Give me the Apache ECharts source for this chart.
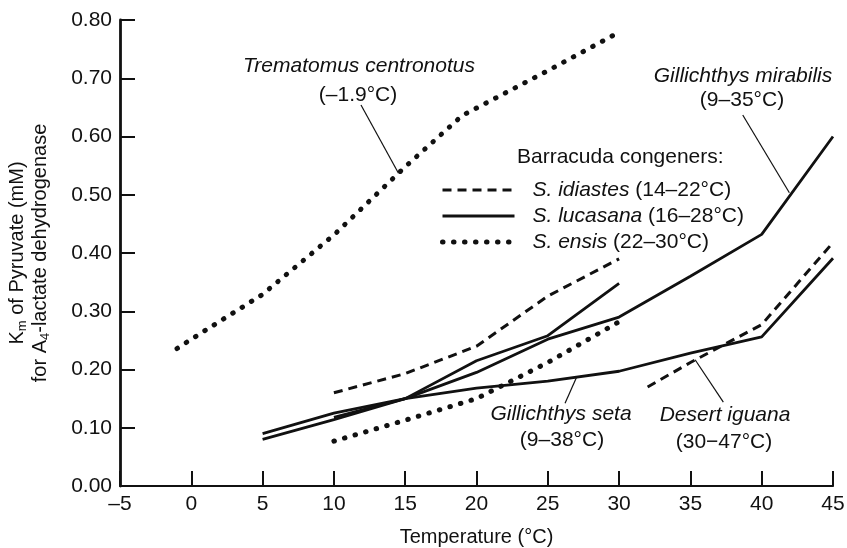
<!DOCTYPE html>
<html>
<head>
<meta charset="utf-8">
<script src="https://cdn.jsdelivr.net/npm/echarts@6/dist/echarts.min.js"></script>
<style>
  html, body { margin: 0; padding: 0; background: #fff; }
  #chart { width: 847px; height: 548px; }
</style>
</head>
<body>
<div id="chart"></div>
<script>
// ---- Data ----
const xTicks = [-5, 0, 5, 10, 15, 20, 25, 30, 35, 40, 45];
const yTicks = [0.0, 0.1, 0.2, 0.3, 0.4, 0.5, 0.6, 0.7, 0.8];

const trematomusT = [-1, 0, 5, 10, 15, 19, 25, 30];
const trematomusK = [0.236, 0.252, 0.329, 0.431, 0.548, 0.636, 0.713, 0.779];

const mirabilisT = [5, 10, 15, 20, 25, 30, 35, 40, 45];
const mirabilisK = [0.080, 0.114, 0.150, 0.195, 0.252, 0.290, 0.360, 0.432, 0.600];

const setaT = [5, 10, 15, 20, 25, 30, 35, 40, 45];
const setaK = [0.090, 0.125, 0.150, 0.168, 0.180, 0.197, 0.228, 0.256, 0.391];

const idiastesT = [10, 15, 20, 25, 30];
const idiastesK = [0.160, 0.193, 0.240, 0.326, 0.390];

const lucasanaT = [10, 15, 20, 25, 30];
const lucasanaK = [0.118, 0.150, 0.215, 0.258, 0.348];

const ensisT = [10, 15, 20, 25, 30];
const ensisK = [0.077, 0.113, 0.150, 0.212, 0.282];

const iguanaT = [32, 35, 40, 45];
const iguanaK = [0.170, 0.212, 0.277, 0.418];

const legendNames = ['S. idiastes', 'S. lucasana', 'S. ensis'];
const legendRanges = ['(14–22°C)', '(16–28°C)', '(22–30°C)'];

// ---- Styles ----
const FONT = "'Liberation Sans', Arial, Helvetica, sans-serif";
const INK = '#111';
const solid = { color: INK, width: 2.8, type: 'solid' };
const dashed = { color: INK, width: 3, type: [9, 6] };
const dotted = { color: INK, width: 5, type: [0.5, 10.5], cap: 'round' };

function zip(t, k) { return t.map((v, i) => [v, k[i]]); }
function lineSeries(name, t, k, style) {
  return {
    name: name, type: 'line', data: zip(t, k), symbol: 'none', silent: true,
    color: INK, itemStyle: { color: INK },
    lineStyle: style, animation: false, z: 3
  };
}

const chart = echarts.init(document.getElementById('chart'), null, { renderer: 'canvas' });

const option = {
  animation: false,
  backgroundColor: '#fff',
  color: [INK],
  grid: { left: 120, right: 14, top: 20, bottom: 62, containLabel: false, outerBoundsMode: 'none' },
  xAxis: {
    type: 'value', min: -5, max: 45, interval: 5,
    name: 'Temperature (°C)', nameLocation: 'middle', nameGap: 41,
    nameTextStyle: { fontSize: 20, color: INK, fontFamily: FONT },
    axisLine: { show: true, onZero: false, lineStyle: { color: INK, width: 2.2 } },
    axisTick: { show: true, inside: true, length: 15, lineStyle: { color: INK, width: 2 } },
    axisLabel: { fontSize: 21, color: INK, fontFamily: FONT, margin: 8,
      formatter: v => (v < 0 ? '–' + Math.abs(v) : String(v)) },
    splitLine: { show: false }
  },
  yAxis: {
    type: 'value', min: 0, max: 0.8, interval: 0.1,
    name: '{a|K}{s|m}{a| of Pyruvate (mM)}\n{a|for A}{s|4}{a|-lactate dehydrogenase}',
    nameLocation: 'middle', nameGap: 68,
    nameTextStyle: {
      color: INK, fontFamily: FONT, fontSize: 20, lineHeight: 23,
      rich: {
        a: { fontSize: 20, lineHeight: 23, fontFamily: FONT, color: INK },
        s: { fontSize: 13, lineHeight: 23, fontFamily: FONT, color: INK, verticalAlign: 'bottom' }
      }
    },
    axisLine: { show: true, onZero: false, lineStyle: { color: INK, width: 2.8 } },
    axisTick: { show: true, inside: true, length: 15, lineStyle: { color: INK, width: 2 } },
    axisLabel: { fontSize: 21, color: INK, fontFamily: FONT, margin: 8,
      formatter: v => v.toFixed(2) },
    splitLine: { show: false }
  },
  legend: {
    orient: 'vertical', left: 435, top: 174,
    itemWidth: 72, itemHeight: 14, itemGap: 4,
    selectedMode: false,
    itemStyle: { opacity: 0, borderWidth: 0 },
    data: [
      { name: legendNames[0], lineStyle: dashed, itemStyle: { opacity: 0 } },
      { name: legendNames[1], lineStyle: solid, itemStyle: { opacity: 0 } },
      { name: legendNames[2], lineStyle: dotted, itemStyle: { opacity: 0 } }
    ],
    formatter: function (name) {
      const i = legendNames.indexOf(name);
      return '{sp|}{i|' + name + '} {r|' + legendRanges[i] + '}';
    },
    textStyle: {
      fontSize: 21, color: INK, fontFamily: FONT, lineHeight: 22,
      rich: {
        sp: { width: 13 },
        i: { fontSize: 21, fontStyle: 'italic', fontFamily: FONT, color: INK },
        r: { fontSize: 21, fontFamily: FONT, color: INK }
      }
    }
  },
  series: [
    lineSeries('Trematomus centronotus', trematomusT, trematomusK, dotted),
    lineSeries('Gillichthys mirabilis', mirabilisT, mirabilisK, solid),
    lineSeries('Gillichthys seta', setaT, setaK, solid),
    lineSeries('S. idiastes', idiastesT, idiastesK, dashed),
    lineSeries('S. lucasana', lucasanaT, lucasanaK, solid),
    lineSeries('S. ensis', ensisT, ensisK, dotted),
    lineSeries('Desert iguana', iguanaT, iguanaK, dashed),
    {
      type: 'lines', coordinateSystem: 'cartesian2d', silent: true, z: 4,
      lineStyle: { color: INK, width: 1.2, opacity: 1 },
      data: [
        { coords: [[11.9, 0.654], [14.53, 0.537]] },
        { coords: [[38.67, 0.637], [41.94, 0.5035]] },
        { coords: [[26.21, 0.1421], [27.04, 0.1879]] },
        { coords: [[37.31, 0.1439], [35.33, 0.2167]] }
      ]
    }
  ],
  graphic: [
    { type: 'text', x: 359, y: 66, style: { text: 'Trematomus centronotus', fontSize: 21, fontStyle: 'italic', fontFamily: FONT, fill: INK, align: 'center', verticalAlign: 'middle' } },
    { type: 'text', x: 358, y: 95, style: { text: '(–1.9°C)', fontSize: 21, fontFamily: FONT, fill: INK, align: 'center', verticalAlign: 'middle' } },
    { type: 'text', x: 743, y: 76, style: { text: 'Gillichthys mirabilis', fontSize: 21, fontStyle: 'italic', fontFamily: FONT, fill: INK, align: 'center', verticalAlign: 'middle' } },
    { type: 'text', x: 742, y: 100, style: { text: '(9–35°C)', fontSize: 21, fontFamily: FONT, fill: INK, align: 'center', verticalAlign: 'middle' } },
    { type: 'text', x: 517, y: 157, style: { text: 'Barracuda congeners:', fontSize: 21, fontFamily: FONT, fill: INK, align: 'left', verticalAlign: 'middle' } },
    { type: 'text', x: 561, y: 414, style: { text: 'Gillichthys seta', fontSize: 21, fontStyle: 'italic', fontFamily: FONT, fill: INK, align: 'center', verticalAlign: 'middle' } },
    { type: 'text', x: 562, y: 440, style: { text: '(9–38°C)', fontSize: 21, fontFamily: FONT, fill: INK, align: 'center', verticalAlign: 'middle' } },
    { type: 'text', x: 725, y: 415, style: { text: 'Desert iguana', fontSize: 21, fontStyle: 'italic', fontFamily: FONT, fill: INK, align: 'center', verticalAlign: 'middle' } },
    { type: 'text', x: 724, y: 442, style: { text: '(30−47°C)', fontSize: 21, fontFamily: FONT, fill: INK, align: 'center', verticalAlign: 'middle' } }
  ]
};

chart.setOption(option);
</script>
</body>
</html>
